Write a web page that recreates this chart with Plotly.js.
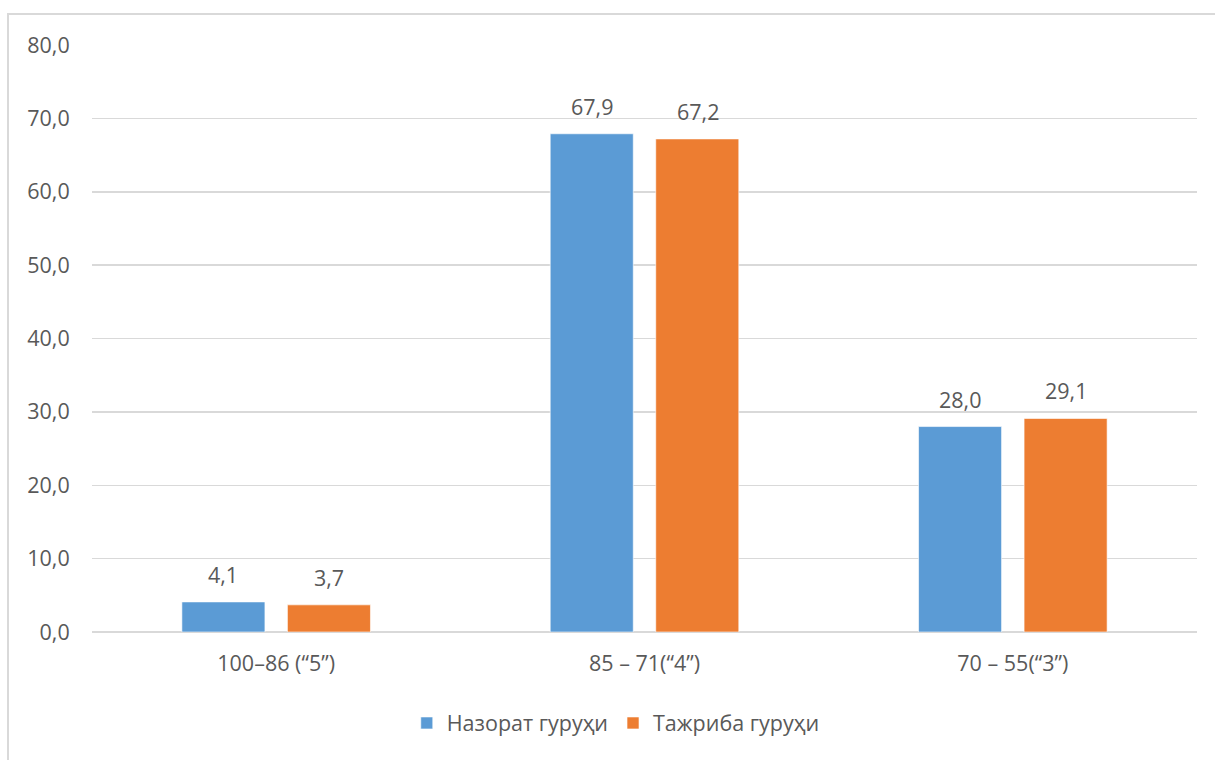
<!DOCTYPE html>
<html><head><meta charset="utf-8">
<script src="https://cdn.plot.ly/plotly-3.0.1.min.js"></script>
<style>html,body{margin:0;padding:0;background:#fff;overflow:hidden}
#frame{position:absolute;left:7px;top:13px;width:1400px;height:900px;border:2px solid #d9d9d9;pointer-events:none;z-index:5}
</style></head><body>
<div id="chart" style="width:1215px;height:760px"></div>
<div id="frame"></div>
<script>
const categories = ['100–86 (“5”)', '85 – 71(“4”)', '70 – 55(“3”)'];
const seriesNames = ['Назорат гуруҳи', 'Тажриба гуруҳи'];
const controlValues = [4.1, 67.9, 28.0];
const experimentValues = [3.7, 67.2, 29.1];
const yTicks = [0, 10, 20, 30, 40, 50, 60, 70, 80];

const font = {family: '"Open Sans", "Noto Sans", sans-serif', size: 21.5, color: '#595959'};
function bar(name, vals, color) {
  return {type: 'bar', name: name, x: categories, y: vals,
    marker: {color: color, line: {color: 'rgba(255,255,255,0.6)', width: 1}},
    hoverinfo: 'skip'};
}
const series = [controlValues, experimentValues];
const data = [bar(seriesNames[0], controlValues, '#5B9BD5'), bar(seriesNames[1], experimentValues, '#ED7D31')];
const annotations = [];
series.forEach((vals, i) => {
  vals.forEach((v, j) => {
    annotations.push({x: categories[j], y: v, xref: 'x', yref: 'y', text: v.toFixed(1).replace('.', ','),
      showarrow: false, yanchor: 'bottom', xanchor: 'center', yshift: 11, xshift: (i === 0 ? -1 : 1) * 53, font: font});
  });
});
const layout = {
  width: 1215, height: 760,
  margin: {l: 92, r: 18, t: 45, b: 128},
  separators: ', ',
  paper_bgcolor: '#fff', plot_bgcolor: '#fff',
  font: font,
  barmode: 'group', bargap: 0.427, bargroupgap: 0.213,
  xaxis: {showgrid: false, showline: false, zeroline: false, ticks: 'outside', ticklen: 12, tickcolor: 'rgba(0,0,0,0)', tickfont: font},
  yaxis: {range: [0, 80], tickvals: yTicks, tickformat: '.1f', showgrid: true, gridcolor: '#d9d9d9', gridwidth: 1.5,
    zeroline: true, zerolinecolor: '#d9d9d9', zerolinewidth: 1.5, showline: false,
    ticks: 'outside', ticklen: 17, tickcolor: 'rgba(0,0,0,0)', tickfont: font},
  annotations: annotations,
  showlegend: true,
  legend: {orientation: 'h', x: 0.474, xanchor: 'center', y: -0.155, yanchor: 'middle', font: font, itemwidth: 30, traceorder: 'normal'}
};
Plotly.newPlot('chart', data, layout, {displayModeBar: false, staticPlot: true});
</script></body></html>
